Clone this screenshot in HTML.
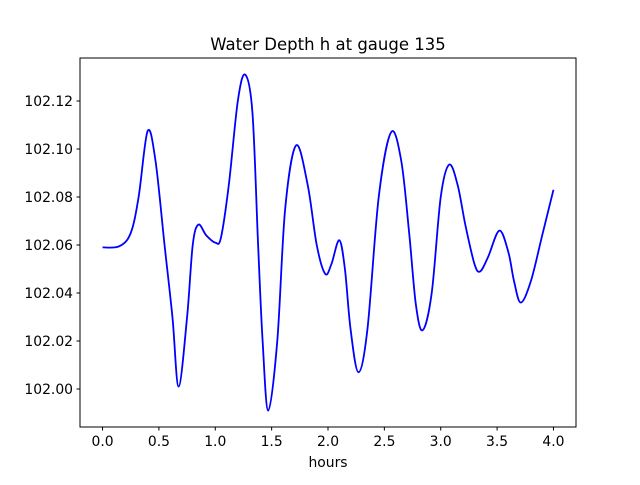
<!DOCTYPE html>
<html><head><meta charset="utf-8"><style>
body{margin:0;background:#fff;}
svg text{font-family:"DejaVu Sans","Liberation Sans",sans-serif;fill:#000;}
</style></head><body>
<svg id="chart" width="640" height="480">
<rect x="0" y="0" width="640" height="480" fill="#fff"/>
<text x="328" y="50" font-size="16.5" text-anchor="middle">Water Depth h at gauge 135</text>
<g id="xt"></g>
<g id="yt"></g>
<path id="line" fill="none" stroke="#0000ff" stroke-width="1.8"/>
<rect x="80" y="58" width="496" height="369" fill="none" stroke="#000" stroke-width="1"/>
<text x="328" y="467" font-size="13.9" text-anchor="middle">hours</text>
</svg>
<script>
const times=[0,0.15,0.25,0.32,0.4,0.47,0.55,0.62,0.675,0.75,0.8,0.85,0.92,1.0,1.05,1.12,1.2,1.265,1.33,1.38,1.42,1.47,1.55,1.62,1.717,1.82,1.9,1.975,2.03,2.1,2.15,2.2,2.27,2.35,2.45,2.56,2.65,2.72,2.78,2.84,2.92,3.0,3.075,3.15,3.22,3.3,3.35,3.42,3.52,3.6,3.65,3.71,3.8,3.9,4.0];
const depths=[102.059,102.0595,102.065,102.08,102.1075,102.095,102.06,102.03,102.001,102.03,102.06,102.0685,102.064,102.061,102.063,102.085,102.12,102.131,102.115,102.06,102.02,101.991,102.02,102.075,102.1015,102.085,102.06,102.048,102.052,102.062,102.05,102.025,102.007,102.025,102.08,102.107,102.095,102.065,102.035,102.0245,102.04,102.08,102.0935,102.085,102.068,102.052,102.049,102.055,102.066,102.057,102.045,102.036,102.045,102.064,102.083];
const xTicks=[0,0.5,1,1.5,2,2.5,3,3.5,4];
const xTickLabels=["0.0","0.5","1.0","1.5","2.0","2.5","3.0","3.5","4.0"];
const yTicks=[102.00,102.02,102.04,102.06,102.08,102.10,102.12];
const yTickLabels=["102.00","102.02","102.04","102.06","102.08","102.10","102.12"];
const X0=80,X1=576,Y0=427,Y1=58,xmin=-0.2,xmax=4.2,ymin=101.98417,ymax=102.13792;
const sx=t=>X0+(t-xmin)/(xmax-xmin)*(X1-X0);
const sy=v=>Y0-(v-ymin)/(ymax-ymin)*(Y0-Y1);
const NS="http://www.w3.org/2000/svg";
const xt=document.getElementById('xt'),yt=document.getElementById('yt');
xTicks.forEach((t,i)=>{
 const l=document.createElementNS(NS,'line');
 l.setAttribute('x1',sx(t));l.setAttribute('x2',sx(t));l.setAttribute('y1',427);l.setAttribute('y2',430.5);l.setAttribute('stroke','#000');
 
 
 xt.appendChild(l);
 const tx=document.createElementNS(NS,'text');
 tx.setAttribute('x',sx(t));tx.setAttribute('y',446);tx.setAttribute('font-size','13.9');tx.setAttribute('text-anchor','middle');
 tx.textContent=xTickLabels[i];
 
 
 xt.appendChild(tx);
});
yTicks.forEach((v,i)=>{
 const l=document.createElementNS(NS,'line');
 l.setAttribute('x1',76.5);l.setAttribute('x2',80);l.setAttribute('y1',sy(v));l.setAttribute('y2',sy(v));l.setAttribute('stroke','#000');
 
 
 yt.appendChild(l);
 const tx=document.createElementNS(NS,'text');
 tx.setAttribute('x',73);tx.setAttribute('y',sy(v)+5);tx.setAttribute('font-size','13.9');tx.setAttribute('text-anchor','end');
 tx.textContent=yTickLabels[i];
 
 
 yt.appendChild(tx);
});
const P=times.map((t,i)=>[sx(t),sy(depths[i])]);
let d='M'+P[0][0]+','+P[0][1];
for(let i=0;i<P.length-1;i++){
 const p0=P[i-1]||P[i],p1=P[i],p2=P[i+1],p3=P[i+2]||P[i+1];
 const c1=[p1[0]+(p2[0]-p0[0])/6,p1[1]+(p2[1]-p0[1])/6];
 const c2=[p2[0]-(p3[0]-p1[0])/6,p2[1]-(p3[1]-p1[1])/6];
 d+=` C${c1[0]},${c1[1]} ${c2[0]},${c2[1]} ${p2[0]},${p2[1]}`;
}
document.getElementById('line').setAttribute('d',d);
</script>
</body></html>
